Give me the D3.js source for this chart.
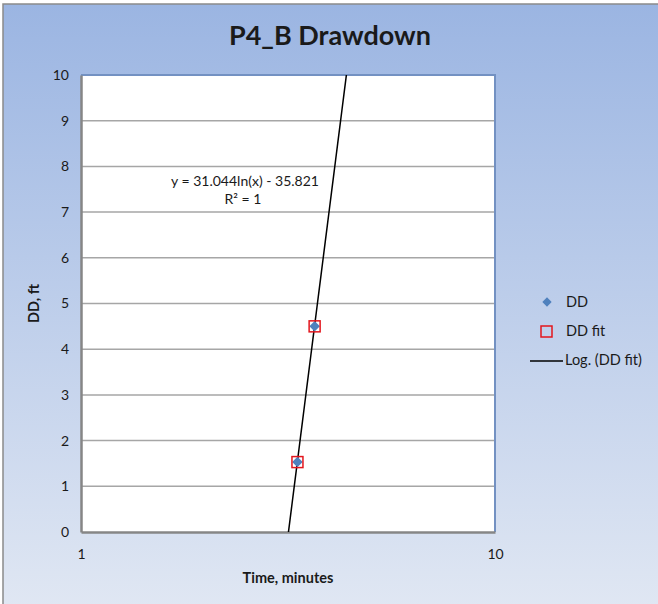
<!DOCTYPE html>
<html>
<head>
<meta charset="utf-8">
<script src="https://cdn.jsdelivr.net/npm/d3@7"></script>
<style>
  html, body { margin: 0; padding: 0; background: #ffffff; }
  svg { display: block; }
  text { font-family: Lato, "Open Sans", "DejaVu Sans", sans-serif; fill: #1a1a1a; }
</style>
</head>
<body>
<svg id="chart" width="658" height="604"></svg>
<script>
// Drawdown observations (time in minutes, drawdown in ft)
const timeMinutes = [3.333, 3.667];
const drawdown = [1.53, 4.5];
const drawdownFit = [1.53, 4.5];

// Logarithmic trendline: y = a·ln(x) + b
const trendCoef = [31.044, -35.821];
const trendLabel = ["y = 31.044ln(x) - 35.821", "R² = 1"];

const yTicks = [0, 1, 2, 3, 4, 5, 6, 7, 8, 9, 10];
const xTicks = [1, 10];
const legendItems = ["DD", "DD fit", "Log. (DD fit)"];

const svg = d3.select("#chart");
const W = 658, H = 604;

// Background gradient panel
const defs = svg.append("defs");
const grad = defs.append("linearGradient").attr("id", "bg").attr("x1", 0).attr("y1", 0).attr("x2", 0).attr("y2", 1);
grad.append("stop").attr("offset", "0%").attr("stop-color", "#9bb5e2");
grad.append("stop").attr("offset", "100%").attr("stop-color", "#e0e7f3");

svg.append("rect").attr("x", 3).attr("y", 4).attr("width", W).attr("height", H)
  .attr("fill", "url(#bg)").attr("stroke", "#8a8a8a").attr("stroke-width", 1.5);

const plot = { left: 81, top: 75, right: 495, bottom: 532 };

const x = d3.scaleLog().domain([1, 10]).range([plot.left, plot.right]);
const y = d3.scaleLinear().domain([0, 10]).range([plot.bottom, plot.top]);

// Plot area
svg.append("rect").attr("x", plot.left).attr("y", plot.top)
  .attr("width", plot.right - plot.left).attr("height", plot.bottom - plot.top)
  .attr("fill", "#ffffff");

// Horizontal gridlines
svg.append("g").selectAll("line").data(yTicks.filter(d => d > 0 && d < 10)).join("line")
  .attr("x1", plot.left).attr("x2", plot.right)
  .attr("y1", d => y(d)).attr("y2", d => y(d))
  .attr("stroke", "#a6a6a6").attr("stroke-width", 1.5);

// Plot border (top/right) in blue
svg.append("path")
  .attr("d", `M${plot.left},${plot.top}H${plot.right}V${plot.bottom}`)
  .attr("fill", "none").attr("stroke", "#7391c2").attr("stroke-width", 2);

// Axes
const yAxis = d3.axisLeft(y).tickValues(yTicks).tickSize(0).tickPadding(12).tickFormat(d3.format("d"));
const gy = svg.append("g").attr("transform", `translate(${plot.left},0)`).call(yAxis);
gy.select(".domain").attr("stroke", "#868686").attr("stroke-width", 2.5);
gy.selectAll("text").attr("font-size", 14).attr("font-family", "Lato, 'Open Sans', sans-serif").attr("fill", "#1a1a1a");

const xAxis = d3.axisBottom(x).tickValues(xTicks).tickSize(0).tickPadding(17).tickFormat(d3.format("d"));
const gx = svg.append("g").attr("transform", `translate(0,${plot.bottom})`).call(xAxis);
gx.select(".domain").attr("stroke", "#868686").attr("stroke-width", 2.5);
gx.selectAll("text").attr("font-size", 14).attr("font-family", "Lato, 'Open Sans', sans-serif").attr("fill", "#1a1a1a");

// Trendline, clipped to the plot area
defs.append("clipPath").attr("id", "plotClip").append("rect")
  .attr("x", plot.left).attr("y", plot.top)
  .attr("width", plot.right - plot.left).attr("height", plot.bottom - plot.top);

const fit = t => trendCoef[0] * Math.log(t) + trendCoef[1];
const tSamples = d3.range(0, 201).map(i => Math.pow(10, i / 200));
svg.append("path")
  .datum(tSamples)
  .attr("clip-path", "url(#plotClip)")
  .attr("d", d3.line().x(t => x(t)).y(t => y(fit(t))))
  .attr("fill", "none").attr("stroke", "#000000").attr("stroke-width", 1.5);

// DD points (diamonds)
const diamond = d3.symbol().type(d3.symbolDiamond2).size(70);
svg.append("g").selectAll("path").data(timeMinutes).join("path")
  .attr("transform", (t, i) => `translate(${x(t)},${y(drawdown[i])})`)
  .attr("d", diamond).attr("fill", "#4f81bd");

// DD fit points (open red squares)
svg.append("g").selectAll("rect").data(timeMinutes).join("rect")
  .attr("x", t => x(t) - 5.5).attr("y", (t, i) => y(drawdownFit[i]) - 5.5)
  .attr("width", 11).attr("height", 11)
  .attr("fill", "none").attr("stroke", "#e3161d").attr("stroke-width", 1.5);

// Trendline equation label
const eq = svg.append("text").attr("text-anchor", "middle").attr("font-size", 14);
eq.append("tspan").attr("x", 245).attr("y", 186).text(trendLabel[0]);
eq.append("tspan").attr("x", 243).attr("y", 204).text(trendLabel[1]);

// Title
svg.append("text").attr("x", 330).attr("y", 45).attr("text-anchor", "middle")
  .attr("font-size", 27).attr("font-weight", "bold").text("P4_B Drawdown");

// Axis titles
svg.append("text").attr("x", 288).attr("y", 583).attr("text-anchor", "middle")
  .attr("font-size", 14.5).attr("font-weight", "bold").text("Time, minutes");
svg.append("text").attr("transform", `translate(39,${(plot.top + plot.bottom) / 2}) rotate(-90)`)
  .attr("text-anchor", "middle").attr("font-size", 14.5).attr("font-weight", "bold").text("DD, ft");

// Legend
const lg = svg.append("g");
lg.append("path").attr("transform", "translate(547,302)").attr("d", d3.symbol().type(d3.symbolDiamond2).size(55)).attr("fill", "#4f81bd");
lg.append("rect").attr("x", 541).attr("y", 326).attr("width", 11).attr("height", 11)
  .attr("fill", "none").attr("stroke", "#e3161d").attr("stroke-width", 1.5);
lg.append("line").attr("x1", 530).attr("x2", 563).attr("y1", 361).attr("y2", 361)
  .attr("stroke", "#000").attr("stroke-width", 1.5);
lg.selectAll("text").data(legendItems).join("text")
  .attr("x", (d, i) => i === 2 ? 565 : 566).attr("y", (d, i) => 307 + i * 29)
  .attr("font-size", 14.5).text(d => d);
</script>
</body>
</html>
